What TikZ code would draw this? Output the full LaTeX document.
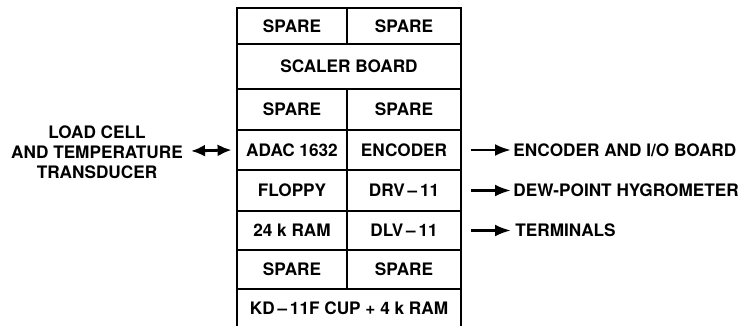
\documentclass[tikz,border=0pt]{standalone}
\usepackage{fontspec}
\setmainfont{TeX Gyre Heros}
\usetikzlibrary{arrows.meta}
\begin{document}
\begin{tikzpicture}[x=0.5pt,y=-0.5pt,
  txt/.style={font=\bfseries\fontsize{8.6}{10}\selectfont},
  cell/.style={txt, draw, line width=1.4pt, inner sep=0pt},
  lbl/.style={txt, inner sep=0pt},
  colL/.style={minimum width=55pt},
  colR/.style={minimum width=57pt},
  colF/.style={minimum width=112pt},
  arr/.style={line width=1.4pt, -{Latex[length=8pt,width=6pt]}},
  darr/.style={line width=1.4pt, {Latex[length=7pt,width=6pt]}-{Latex[length=7pt,width=6pt]}},
]
\useasboundingbox (0,0) rectangle (741,326);
% row 1
\node[cell, colL, minimum height=18pt] (s1l) at (292,26) {SPARE};
\node[cell, colR, minimum height=18pt] (s1r) at (404,26) {SPARE};
% row 2
\node[cell, colF, minimum height=22.5pt] (scaler) at (349,66.5) {SCALER BOARD};
% row 3
\node[cell, colL, minimum height=20.5pt] (s3l) at (292,109.5) {SPARE};
\node[cell, colR, minimum height=20.5pt] (s3r) at (404,109.5) {SPARE};
% row 4
\node[cell, colL, minimum height=20pt] (adac) at (292,150) {ADAC 1632};
\node[cell, colR, minimum height=20pt] (enc) at (404,150) {ENCODER};
% row 5
\node[cell, colL, minimum height=20.5pt] (floppy) at (292,190.5) {FLOPPY};
\node[cell, colR, minimum height=20.5pt] (drv) at (404,190.5) {DRV\,--\,11};
% row 6
\node[cell, colL, minimum height=19.5pt] (ram) at (292,230.5) {24 k RAM};
\node[cell, colR, minimum height=19.5pt] (dlv) at (404,230.5) {DLV\,--\,11};
% row 7
\node[cell, colL, minimum height=19.5pt] (s7l) at (292,269.5) {SPARE};
\node[cell, colR, minimum height=19.5pt] (s7r) at (404,269.5) {SPARE};
% row 8 (open at bottom)
\node[lbl] (cpu) at (349,308) {KD\,--\,11F CUP + 4 k RAM};
\draw[line width=1.4pt] (237,289) -- (237,326);
\draw[line width=1.4pt] (461,289) -- (461,326);

% left label
\node[lbl, align=center] (load) at (97,152) {LOAD CELL\\AND TEMPERATURE\\TRANSDUCER};
\coordinate (lt) at (191,151);
\draw[darr] (lt) -- ([xshift=-2pt]adac.west);

% right labels
\node[lbl, anchor=west] (encT) at (513,150) {ENCODER AND I/O BOARD};
\node[lbl, anchor=west] (dewT) at (513,190.5) {DEW-POINT HYGROMETER};
\node[lbl, anchor=west] (termT) at (515,230.5) {TERMINALS};
\draw[arr] ([xshift=4.5pt]enc.east) -- ([xshift=-1pt]encT.west);
\draw[arr] ([xshift=4.5pt]drv.east) -- ([xshift=-1pt]dewT.west);
\draw[arr] ([xshift=4.5pt]dlv.east) -- ([xshift=-2pt]termT.west);
\end{tikzpicture}
\end{document}
